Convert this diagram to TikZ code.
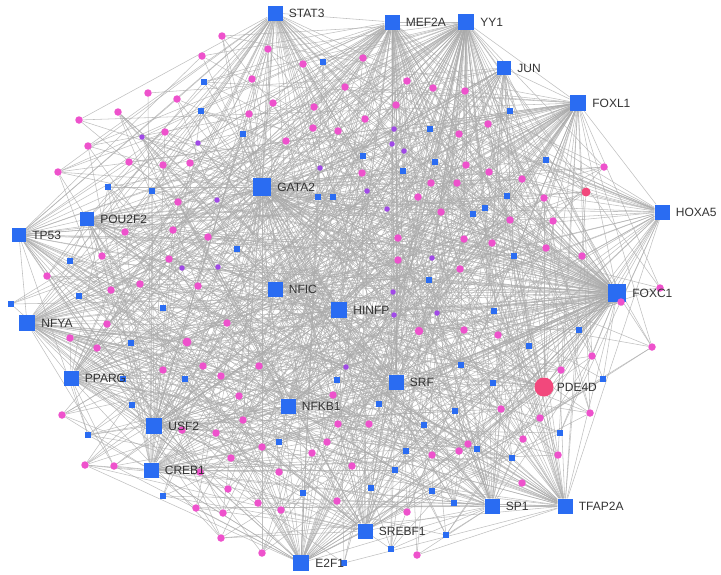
\documentclass[tikz,border=0pt]{standalone}
\usepackage{fontspec}
\setmainfont{Liberation Sans}
\usetikzlibrary{positioning,backgrounds}
\definecolor{tfblue}{RGB}{42,108,242}
\definecolor{genepink}{RGB}{238,82,204}
\definecolor{mirpurple}{RGB}{160,74,230}
\definecolor{hotpink}{RGB}{242,72,124}
\definecolor{edgegray}{RGB}{170,170,170}
\tikzset{
  hub/.style={rectangle,fill=tfblue,inner sep=0pt,minimum size=15pt},
  tf/.style={rectangle,fill=tfblue,inner sep=0pt,minimum size=6pt},
  gene/.style={circle,fill=genepink,inner sep=0pt,minimum size=7.5pt},
  mir/.style={circle,fill=mirpurple,inner sep=0pt,minimum size=5.5pt},
  lbl/.style={inner sep=1pt,font=\fontsize{12}{12}\selectfont,text=black!80},
  link/.style={draw=edgegray,line width=0.55pt,opacity=0.75}
}
\def\hublist{stat3/30,mef2a/42,yy1/42,jun/18,foxl1/38,hoxa5/18,foxc1/64,tp53/20,pou2f2/20,gata2/58,nfic/26,hinfp/26,nfya/26,pparg/22,srf/26,nfkb1/26,usf2/26,creb1/22,sp1/26,tfap2a/26,srebf1/22,e2f1/30,pde4d/13}
\newcommand\hublinks[1]{%
  \begin{pgfonlayer}{background}
  \foreach \h/\pr in \hublist{%
    \pgfmathrandominteger{\rv}{1}{100}%
    \ifnum\rv<\pr\relax\draw[link] (#1) -- (\h);\fi}
  \end{pgfonlayer}}

\begin{document}
\begin{tikzpicture}[x=1pt,y=-1pt]
\useasboundingbox (0,0) rectangle (721,574);
\pgfmathsetseed{17}
\foreach \n/\x/\y/\sz/\t in {stat3/275/13/15/STAT3,mef2a/392/22/15/MEF2A,yy1/466/22/16/YY1,jun/504/68/14/JUN,foxl1/578/103/16/FOXL1,hoxa5/662/212/15/HOXA5,foxc1/617/293/18/FOXC1,tp53/19/235/14/TP53,pou2f2/87/219/14/POU2F2,gata2/262/187/18/GATA2,nfic/275/289/15/NFIC,hinfp/339/310/16/HINFP,nfya/27/323/16/NFYA,pparg/71/378/15/PPARG,srf/396/382/15/SRF,nfkb1/288/406/15/NFKB1,usf2/154/426/16/USF2,creb1/151/470/15/CREB1,sp1/492/506/15/SP1,tfap2a/565/506/15/TFAP2A,srebf1/365/531/15/SREBF1,e2f1/301/563/16/E2F1}
  \node[hub,minimum size=\sz pt] (\n) at (\x,\y) {};
\node[gene,fill=hotpink,minimum size=19pt] (pde4d) at (544,387) {};

\begin{pgfonlayer}{background}
\foreach \a/\b in {stat3/mef2a,stat3/gata2,mef2a/yy1,yy1/jun,yy1/foxl1,jun/foxl1,foxl1/hoxa5,foxl1/foxc1,hoxa5/foxc1,foxc1/tfap2a,foxc1/gata2,foxc1/pde4d,tfap2a/sp1,sp1/srebf1,srebf1/e2f1,e2f1/creb1,creb1/usf2,usf2/pparg,pparg/nfya,nfya/tp53,tp53/pou2f2,pou2f2/gata2,gata2/nfic,nfic/hinfp,hinfp/srf,srf/nfkb1,nfkb1/usf2,gata2/hinfp,stat3/tp53,mef2a/gata2,yy1/gata2,e2f1/sp1,tfap2a/pde4d,hoxa5/tfap2a,nfya/usf2,pou2f2/nfic}
  \draw[link] (\a) -- (\b);
\end{pgfonlayer}
\hublinks{pde4d}

\foreach \x/\y [count=\i] in {222/36,202/56,268/49,303/64,252/79,345/87,148/93,177/99,118/112,79/120,273/103,314/107,249/114,165/132,88/146,313/128,338/131,286/141,129/162,163/165,190/163,58/172,178/202,125/232,173/230,208/237,102/256,169/259,47/276,140/284,198/286,111/290,363/58,407/81,433/88,465/91,396/105,365/119,488/124,459/134,604/167,466/165,489/172,522/179,431/183,457/183,418/197,544/198,441/212,553/221,510/220,398/238,464/239,492/243,546/248,582/256,398/260,460/269,362/173,660/288,107/324,70/338,97/348,227/323,163/370,203/366,221/376,259/366,239/396,62/415,243/420,216/433,182/430,338/424,327/442,262/447,312/453,231/458,85/465,114/466,200/472,279/472,352/466,228/489,258/503,281/510,196/508,223/513,337/501,221/538,262/553,333/395,621/302,464/330,498/335,652/347,592/356,561/370,590/413,540/418,501/409,369/424,523/439,468/444,459/451,432/455,558/455,522/483,407/512,417/555}{
  \node[gene] (g\i) at (\x,\y) {};
  \hublinks{g\i}
}
\node[gene,fill=hotpink,minimum size=9pt] (gbig1) at (586,192) {};
\hublinks{gbig1}
\node[gene,minimum size=9pt] (gbig2) at (187,342) {};
\hublinks{gbig2}
\node[gene,minimum size=8.5pt] (gbig3) at (419,331) {};
\hublinks{gbig3}

\foreach \x/\y [count=\i] in {217/200,182/268,218/267,142/137,198/143,320/168,394/129,392/144,404/151,367/191,387/209,432/258,346/367,393/292,394/315,437/313}{
  \node[mir] (m\i) at (\x,\y) {};
  \hublinks{m\i}
}

\foreach \x/\y [count=\i] in {323/62,204/82,201/111,243/134,108/187,152/191,318/197,333/197,237/249,70/261,510/111,430/129,363/156,435/162,403/171,546/160,507/196,473/214,485/208,514/256,429/280,11/304,79/296,163/308,131/343,185/379,132/405,88/435,337/380,279/442,163/496,303/493,344/563,494/311,579/330,529/346,461/365,493/383,603/379,379/404,455/411,424/425,560/433,406/451,477/449,512/458,395/470,371/488,432/491,454/503,446/535,391/549,123/379}{
  \node[tf] (t\i) at (\x,\y) {};
  \hublinks{t\i}
}

\foreach \n/\t in {stat3/STAT3,mef2a/MEF2A,yy1/YY1,jun/JUN,foxl1/FOXL1,hoxa5/HOXA5,foxc1/FOXC1,tp53/TP53,pou2f2/POU2F2,gata2/GATA2,nfic/NFIC,hinfp/HINFP,nfya/NFYA,pparg/PPARG,srf/SRF,nfkb1/NFKB1,usf2/USF2,creb1/CREB1,sp1/SP1,tfap2a/TFAP2A,srebf1/SREBF1,e2f1/E2F1}
  \node[lbl,right=5pt of \n] (\n-lbl) {\t};
\node[lbl,right=2pt of pde4d] (pde4d-lbl) {PDE4D};
\end{tikzpicture}
\end{document}
